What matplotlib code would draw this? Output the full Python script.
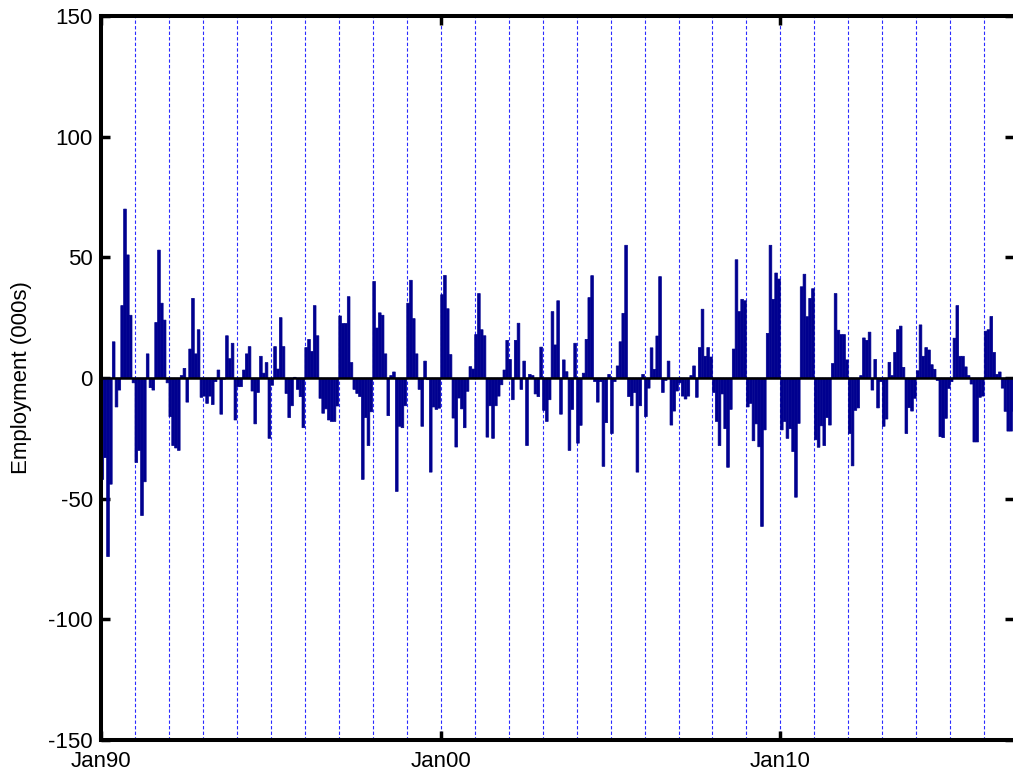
import numpy as np
import matplotlib
matplotlib.use("Agg")
import matplotlib.pyplot as plt

plt.rcParams['font.family'] = ['Liberation Sans', 'DejaVu Sans']
plt.rcParams['axes.unicode_minus'] = False

# monthly change in employment (000s), Jan 1990 onward
emp_1990s = [
    -42, -33, -74, -44, 15, -12, -5, 30, 70, 51, 26, -2,
    -35, -30, -57, -43, 10, -4, -5, 23, 53, 31, 24, -2,
    -16, -28, -29, -30, 1, 4, -10, 12, 33, 10, 20, -8,
    -7.5, -10.5, -7.5, -11, -1.5, 3.3, -15, -0.5, 17.5, 8, 14.4, -17.4,
    -3.6, -3.6, 3.3, 10, 13, -5.4, -19, -6, 9, 2, 6.4, -25,
    -3, 13, 3.7, 25, 13, -6.4, -16.4, -11.5, 0.3, -4.7, -7.7, -20.6,
    12.6, 16, 11, 30, 17.5, -8.4, -14.6, -12.8, -17.4, -18, -18, -11.6,
    25.7, 22.6, 22.6, 33.7, 6.4, -4.7, -6.4, -7.7, -42, -16.4, -28, -14,
    40, 20.7, 27, 26, 10, -15.6, 1, 2.5, -47, -20, -20.6, -11.5,
    31, 40.5, 24.6, 10, -4.7, -20, 7, -0.7, -39, -12, -13, -12.5,
]
emp_2000s = [
    34.5, 42.5, 28.7, 9.7, -16.6, -28.6, -8.3, -12.8, -20.6, -5.5, 4.7, 3.7,
    18, 35, 20, 17.5, -24.5, -11.5, -25, -11.5, -7.5, -2.8, 3.3, 15.6,
    7.7, -9, 15.6, 22.7, -4.7, 7, -28, 1.5, 1, -6.6, -7.7, 12.8,
    -13.4, -18, -9, 27.5, 13.7, 32, -15, 7.5, 2.6, -30, -13, 14.4,
    -27, -19.6, 2, 16, 33.3, 42.4, -1.5, -10, -1.5, -36.6, -18.5, 1.5,
    -23, -1.5, 5, 15, 26.8, 55, -7.7, -11.5, -6, -39, -11.5, 1.5,
    -16, -4.2, 12.5, 3.6, 17.4, 42, -6, -1, 7, -19.5, -13.7, -5.4,
    -2, -7.5, -8.7, -7.5, 1, 5, -8, 12.6, 28.5, 9, 12.6, 8.7,
    -6, -18, -28, -6.6, -21, -37, -13, 12, 49, 27.5, 32.6, 32,
    -12, -10.5, -26, -19, -28.5, -61.5, -21.5, 18.5, 55, 32.6, 43.5, 41,
]
emp_2010s = [
    -21.5, -18, -25, -21, -30.5, -49.4, -18.8, 37.8, 43, 25.4, 33, 37,
    -25.6, -28.7, -19.8, -28, -16.4, -19.5, 6, 35, 19.8, 18, 18, 7.5,
    -23, -36.4, -13.4, -12.4, 1, 16.6, 15.6, 19, -5, 7.7, -12.4, -1.5,
    -20, -17, 6.5, 1, 10.6, 20, 21.5, 4.4, -23, -12.3, -13.7, -8.4,
    3, 22, 9, 12.6, 11.6, 5.5, 3.6, -1, -24.3, -24.7, -16.7, -4.3,
    -1.5, 16.5, 30, 9, 9, 4.6, 1, -2.5, -26.5, -26.5, -8, -7.5,
    19.4, 20, 25.5, 10.6, 1.5, 2.5, -4.2, -13.8, -22, -22, -13.8,
]

tick_labels = ["Jan90", "Jan00", "Jan10"]
tick_months = [0, 120, 240]

values = np.array(emp_1990s + emp_2000s + emp_2010s)
months = np.arange(len(values))

fig = plt.figure(figsize=(10.13, 7.76), dpi=100)
ax = fig.add_axes([101 / 1013, 36 / 776, 913 / 1013, 724 / 776])

# yearly dotted grid
for m in range(12, len(values), 12):
    ax.axvline(m, color="#2a2aff", linestyle=(0, (3, 2)), linewidth=0.8, zorder=0)

bars = ax.bar(months, values, width=0.95, align="edge", color="#00008f",
              edgecolor="#00008f", linewidth=0.5, zorder=2)
for b in bars:
    b.set_snap(False)
ax.axhline(0, color="black", linewidth=1.8, zorder=3)

ax.set_xlim(0, 322.5)
ax.set_ylim(-150, 150)
ax.set_yticks(np.arange(-150, 151, 50))
ax.set_xticks(tick_months)
ax.set_xticklabels(tick_labels)

ax.tick_params(direction="in", length=6.5, width=2.5, top=True, right=True,
               labelsize=16, colors="black")
ax.tick_params(axis="x", pad=8)
ax.tick_params(axis="y", pad=6)
for s in ax.spines.values():
    s.set_linewidth(2.9)

fig.text(22 / 1013, (776 - 378) / 776, "Employment (000s)", rotation=90,
         ha="center", va="center", fontsize=16)

fig.savefig("out.png", dpi=100)
